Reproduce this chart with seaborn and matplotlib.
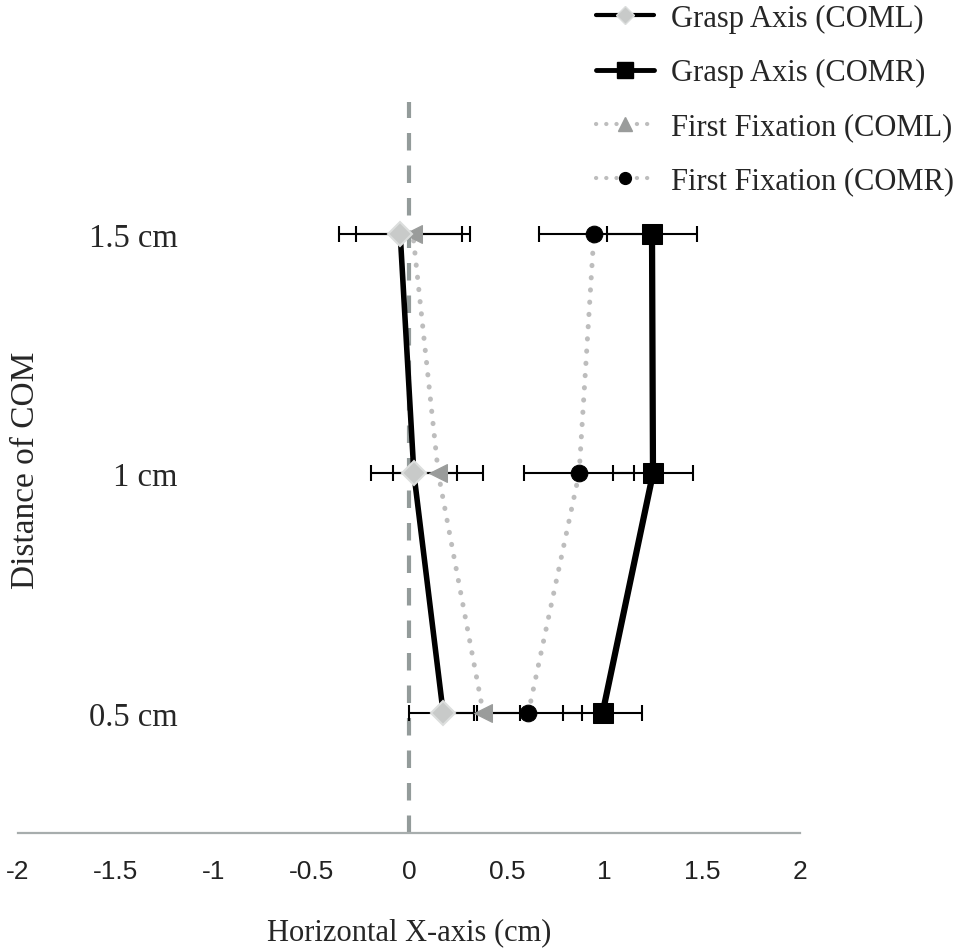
import matplotlib
matplotlib.use("Agg")
import matplotlib.pyplot as plt
from matplotlib.lines import Line2D
import seaborn as sns
import pandas as pd

# ---- data ----
distance_labels = ["0.5 cm", "1 cm", "1.5 cm"]
distance_pos = [1, 2, 3]
grasp_coml = [0.175, 0.025, -0.045]
grasp_coml_err = [0.175, 0.22, 0.315]
grasp_comr = [0.99, 1.248, 1.243]
grasp_comr_err = [0.20, 0.205, 0.23]
fix_coml = [0.38, 0.15, 0.02]
fix_coml_err = [0.19, 0.23, 0.29]
fix_comr = [0.61, 0.87, 0.946]
fix_comr_err = [0.275, 0.28, 0.28]
xticks = [-2, -1.5, -1, -0.5, 0, 0.5, 1, 1.5, 2]
xtick_labels = ["-2", "-1.5", "-1", "-0.5", "0", "0.5", "1", "1.5", "2"]
series_names = ["Grasp Axis (COML)", "Grasp Axis (COMR)",
                "First Fixation (COML)", "First Fixation (COMR)"]

sns.set_style("white")
plt.rcParams["font.family"] = ["Liberation Serif", "DejaVu Serif"]

fig = plt.figure(figsize=(9.6, 9.53), dpi=100)
ax = fig.add_axes([18/960, 1-834/953, (800-18)/960, (834-103)/953])

df = pd.DataFrame({"pos": distance_pos, "gl": grasp_coml, "gr": grasp_comr,
                   "fl": fix_coml, "fr": fix_comr})

# zero reference line
ax.axvline(0, color="#939b9a", lw=3, ls=(0, (4.2, 3.6)), zorder=1)

dot_ls = (0, (0.05, 2.4))
gray_line = "#bdbdbd"

# error bars (horizontal)
for vals, errs in [(grasp_coml, grasp_coml_err), (grasp_comr, grasp_comr_err),
                   (fix_coml, fix_coml_err), (fix_comr, fix_comr_err)]:
    ax.errorbar(vals, distance_pos, xerr=errs, fmt="none", ecolor="black",
                elinewidth=1.5, capsize=5.5, capthick=1.5, zorder=2)

sns.lineplot(data=df, x="fl", y="pos", sort=False, ax=ax, color=gray_line,
             lw=3.6, ls=dot_ls, dash_capstyle="round", zorder=3,
             marker="<", markersize=13, markerfacecolor="#9a9c9b",
             markeredgecolor="#9a9c9b")
sns.lineplot(data=df, x="fr", y="pos", sort=False, ax=ax, color=gray_line,
             lw=3.6, ls=dot_ls, dash_capstyle="round", zorder=3,
             marker="o", markersize=12, markerfacecolor="black",
             markeredgecolor="black")
sns.lineplot(data=df, x="gl", y="pos", sort=False, ax=ax, color="black",
             lw=4, zorder=4, marker="D", markersize=12.5,
             markerfacecolor="#c8cac9", markeredgecolor="#dcdedd",
             markeredgewidth=1.5)
sns.lineplot(data=df, x="gr", y="pos", sort=False, ax=ax, color="black",
             lw=4.5, zorder=4, marker="s", markersize=14,
             markerfacecolor="black", markeredgecolor="black")

ax.set_xlim(-2, 2)
ax.set_ylim(0.5, 3.55)
ax.set_xticks(xticks)
ax.set_xticklabels(xtick_labels, family=["Liberation Sans", "DejaVu Sans"],
                   fontsize=19, color="#222222")
ax.set_yticks(distance_pos)
ax.set_yticklabels(distance_labels, fontsize=23.5)
ax.tick_params(axis="y", length=0, pad=-115)
ax.tick_params(axis="x", length=6, width=1.3, color="#a7adad", pad=13,
               direction="out")
for s in ["top", "right", "left"]:
    ax.spines[s].set_visible(False)
ax.spines["bottom"].set_color("#a7adad")
ax.spines["bottom"].set_linewidth(1.6)
ax.grid(False)

ax.set_xlabel("Horizontal X-axis (cm)", fontsize=22, labelpad=24)
ax.set_ylabel("Distance of COM", fontsize=24)
ax.yaxis.set_label_coords(0.03, 0.498)

handles = [
    Line2D([], [], color="black", lw=3, marker="D", markersize=9.5,
           markerfacecolor="#c8cac9", markeredgecolor="#dcdedd"),
    Line2D([], [], color="black", lw=3.5, marker="s", markersize=11.5,
           markerfacecolor="black", markeredgecolor="black"),
    Line2D([], [], color=gray_line, lw=3, ls=dot_ls, dash_capstyle="round",
           marker="^", markersize=9.5, markerfacecolor="#9a9c9b",
           markeredgecolor="#9a9c9b"),
    Line2D([], [], color=gray_line, lw=3, ls=dot_ls, dash_capstyle="round",
           marker="o", markersize=8.5, markerfacecolor="black",
           markeredgecolor="black"),
]
fig.legend(handles, series_names, loc="upper left",
           bbox_to_anchor=(596/960, 1 - 5/953), frameon=False, fontsize=22,
           handlelength=1.9, handletextpad=0.55, labelspacing=0.82,
           borderpad=0.0, borderaxespad=0.0)

fig.savefig("out.png", dpi=100)
